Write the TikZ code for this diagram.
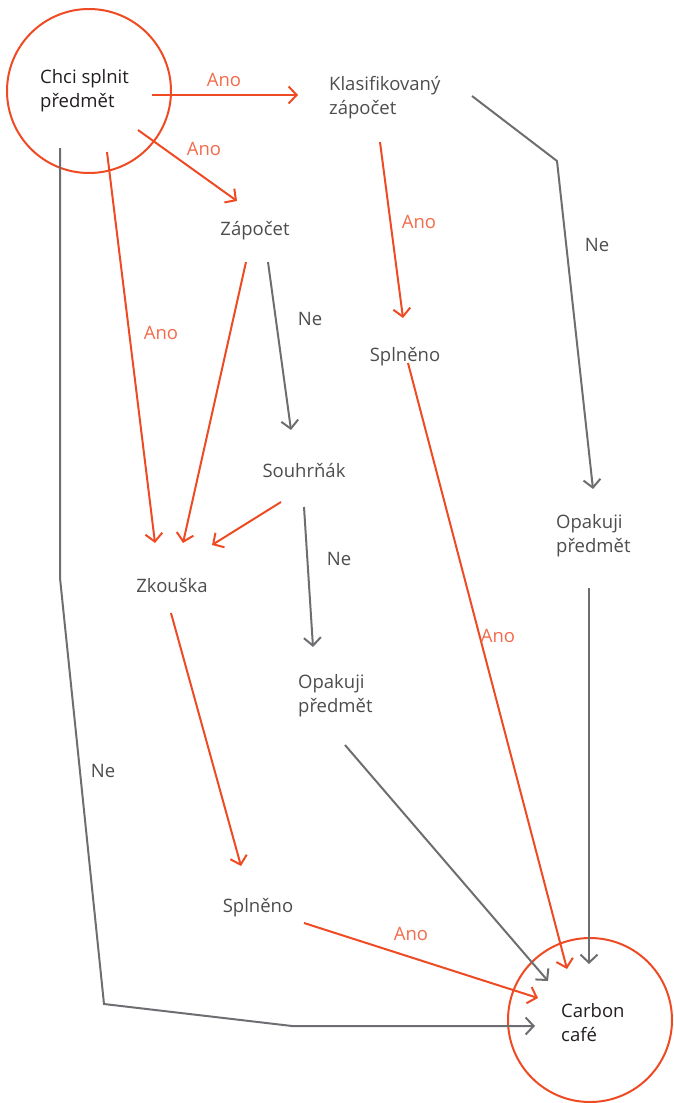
\documentclass[tikz,border=0pt]{standalone}
\usepackage{fontspec}
\setmainfont{Open Sans}
\usetikzlibrary{arrows.meta}
\definecolor{org}{HTML}{EE4A23}
\definecolor{orgtxt}{HTML}{F26B4B}
\definecolor{gry}{HTML}{6D6E71}
\definecolor{txt}{HTML}{4D4D4F}
\definecolor{dark}{HTML}{231F20}
\tikzset{
  lbl/.style={font=\fontsize{18.5}{24}\selectfont, text=txt, align=left, inner sep=0pt},
  big/.style={font=\fontsize{18.5}{24}\selectfont, text=dark, align=left, inner sep=0pt},
  ano/.style={font=\fontsize{18.5}{20}\selectfont, text=orgtxt, inner sep=0pt},
  ne/.style={font=\fontsize{18.5}{20}\selectfont, text=txt, inner sep=0pt},
  oarr/.style={draw=org, line width=2pt, -{Straight Barb[length=8pt,width=17pt,line width=2pt]}},
  garr/.style={draw=gry, line width=2pt, -{Straight Barb[length=8pt,width=17pt,line width=2pt]}},
  ring/.style={draw=org, line width=2pt, circle, minimum size=164pt, inner sep=0pt}
}
\begin{document}
\begin{tikzpicture}[x=1pt,y=-1pt]
\useasboundingbox (0,0) rectangle (673,1103);
% circles
\node[ring] (start) at (89,91) {};
\node[ring] (cafe) at (590,1020) {};
\node[big, anchor=west] (starttxt) at (40,91) {Chci splnit\\předmět};
\node[big, anchor=west] (cafetxt) at (561,1023) {Carbon\\café};
% nodes
\node[lbl, anchor=west] (klas) at (329,98) {Klasifikovaný\\zápočet};
\node[lbl] (zap) at (255,231) {Zápočet};
\node[lbl] (spl1) at (405,357) {Splněno};
\node[lbl] (souhr) at (304,470) {Souhrňák};
\node[lbl, anchor=west] (opak1) at (556,536) {Opakuji\\předmět};
\node[lbl] (zk) at (172,585) {Zkouška};
\node[lbl, anchor=west] (opak2) at (298,696) {Opakuji\\předmět};
\node[lbl] (spl2) at (258,908) {Splněno};
% coordinates
\coordinate (s1) at (152,95);   \coordinate (e1) at (298,95);
\coordinate (s2) at (138,130);  \coordinate (e2) at (237,201);
\coordinate (s3) at (107,152);  \coordinate (e3) at (155,543);
\coordinate (s4) at (60,148);   \coordinate (b4a) at (60,578); \coordinate (b4b) at (104,1004); \coordinate (b4c) at (292,1026); \coordinate (e4) at (535,1026);
\coordinate (s5) at (472,96);   \coordinate (b5) at (557,161); \coordinate (e5) at (593,489);
\coordinate (s6) at (380,142);  \coordinate (e6) at (403,318);
\coordinate (s7) at (268,262);  \coordinate (e7) at (291,430);
\coordinate (s8) at (246,262);  \coordinate (e8) at (183,543);
\coordinate (s9) at (281,502);  \coordinate (e9) at (212,545);
\coordinate (s10) at (304,507); \coordinate (e10) at (313,647);
\coordinate (s11) at (171,613); \coordinate (e11) at (241,866);
\coordinate (s12) at (408,363); \coordinate (e12) at (567,969);
\coordinate (s13) at (589,588); \coordinate (e13) at (589,964);
\coordinate (s14) at (345,745); \coordinate (e14) at (548,981);
\coordinate (s15) at (304,923); \coordinate (e15) at (538,998);
% connectors
\draw[oarr] (s1) -- (e1);
\draw[oarr] (s2) -- (e2);
\draw[oarr] (s3) -- (e3);
\draw[garr] (s4) -- (b4a) -- (b4b) -- (b4c) -- (e4);
\draw[garr] (s5) -- (b5) -- (e5);
\draw[oarr] (s6) -- (e6);
\draw[garr] (s7) -- (e7);
\draw[oarr] (s8) -- (e8);
\draw[oarr] (s9) -- (e9);
\draw[garr] (s10) -- (e10);
\draw[oarr] (s11) -- (e11);
\draw[oarr] (s12) -- (e12);
\draw[garr] (s13) -- (e13);
\draw[garr] (s14) -- (e14);
\draw[oarr] (s15) -- (e15);
% edge labels
\node[ano] (l1) at (224,80) {Ano};
\node[ano] (l2) at (204,149) {Ano};
\node[ano] (l3) at (419,222) {Ano};
\node[ne] (l4) at (597,245) {Ne};
\node[ne] (l5) at (310,319) {Ne};
\node[ano] (l6) at (161,333) {Ano};
\node[ne] (l7) at (339,559) {Ne};
\node[ano] (l8) at (498,636) {Ano};
\node[ne] (l9) at (103,771) {Ne};
\node[ano] (l10) at (411,934) {Ano};
\end{tikzpicture}
\end{document}
